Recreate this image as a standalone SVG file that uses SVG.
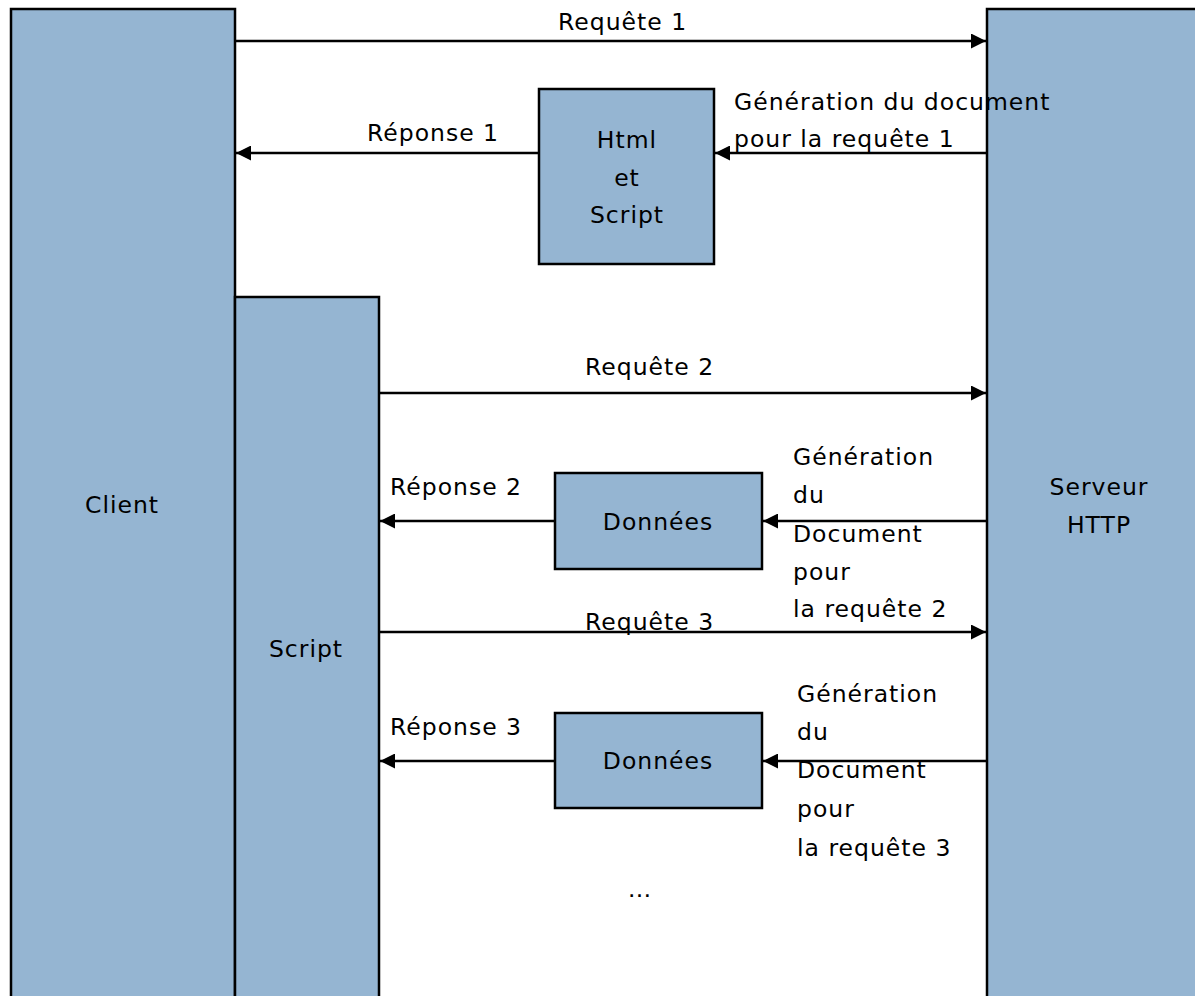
<svg xmlns="http://www.w3.org/2000/svg" width="1195" height="996" viewBox="0 0 1195 996">
<style>
.box{fill:#95b5d2;stroke:#000;stroke-width:2.5}
.ln{stroke:#000;stroke-width:2.5;fill:none}
text{font-family:"DejaVu Sans","Liberation Sans",sans-serif;font-size:23.5px;fill:#000;letter-spacing:1px}
.m{text-anchor:middle}
</style>
<defs>
<marker id="ah" viewBox="0 0 10 10" refX="10" refY="5" markerWidth="6" markerHeight="6" markerUnits="strokeWidth" orient="auto">
<path d="M0,0 L10,5 L0,10 z" fill="#000"/>
</marker>
</defs>
<rect width="1195" height="996" fill="#fff"/>
<g id="client"><rect class="box" x="11" y="9" width="224" height="1000"/><text class="m" x="122" y="513">Client</text></g>
<g id="serveur"><rect class="box" x="987" y="9" width="220" height="1000"/><text class="m" x="1099" y="495">Serveur</text><text class="m" x="1099" y="533">HTTP</text></g>
<g id="script"><rect class="box" x="235" y="297" width="144" height="712"/><text class="m" x="306" y="657">Script</text></g>
<g id="html"><rect class="box" x="539" y="89" width="175" height="175"/><text class="m" x="627" y="148">Html</text><text class="m" x="627" y="186">et</text><text class="m" x="627" y="223">Script</text></g>
<g id="donnees1"><rect class="box" x="555" y="473" width="207" height="96"/><text class="m" x="658" y="530">Données</text></g>
<g id="donnees2"><rect class="box" x="555" y="713" width="207" height="95"/><text class="m" x="658" y="769">Données</text></g>
<g id="connectors">
<line class="ln" x1="235" y1="41" x2="986" y2="41" marker-end="url(#ah)"/>
<line class="ln" x1="539" y1="153" x2="236" y2="153" marker-end="url(#ah)"/>
<line class="ln" x1="987" y1="153" x2="715" y2="153" marker-end="url(#ah)"/>
<line class="ln" x1="379" y1="393" x2="986" y2="393" marker-end="url(#ah)"/>
<line class="ln" x1="555" y1="521" x2="380" y2="521" marker-end="url(#ah)"/>
<line class="ln" x1="987" y1="521" x2="763" y2="521" marker-end="url(#ah)"/>
<line class="ln" x1="379" y1="632" x2="986" y2="632" marker-end="url(#ah)"/>
<line class="ln" x1="555" y1="761" x2="380" y2="761" marker-end="url(#ah)"/>
<line class="ln" x1="987" y1="761" x2="763" y2="761" marker-end="url(#ah)"/>
</g>
<g id="labels">
<text x="558" y="30">Requête 1</text>
<text x="367" y="141">Réponse 1</text>
<text x="734" y="110">Génération du document</text>
<text x="734" y="147">pour la requête 1</text>
<text x="585" y="375">Requête 2</text>
<text x="390" y="495">Réponse 2</text>
<text x="793" y="465">Génération</text>
<text x="793" y="503">du</text>
<text x="793" y="542">Document</text>
<text x="793" y="580">pour</text>
<text x="793" y="617">la requête 2</text>
<text x="585" y="630">Requête 3</text>
<text x="390" y="735">Réponse 3</text>
<text x="797" y="702">Génération</text>
<text x="797" y="740">du</text>
<text x="797" y="778">Document</text>
<text x="797" y="817">pour</text>
<text x="797" y="856">la requête 3</text>
<text x="640" y="897" class="m">…</text>
</g>
</svg>
